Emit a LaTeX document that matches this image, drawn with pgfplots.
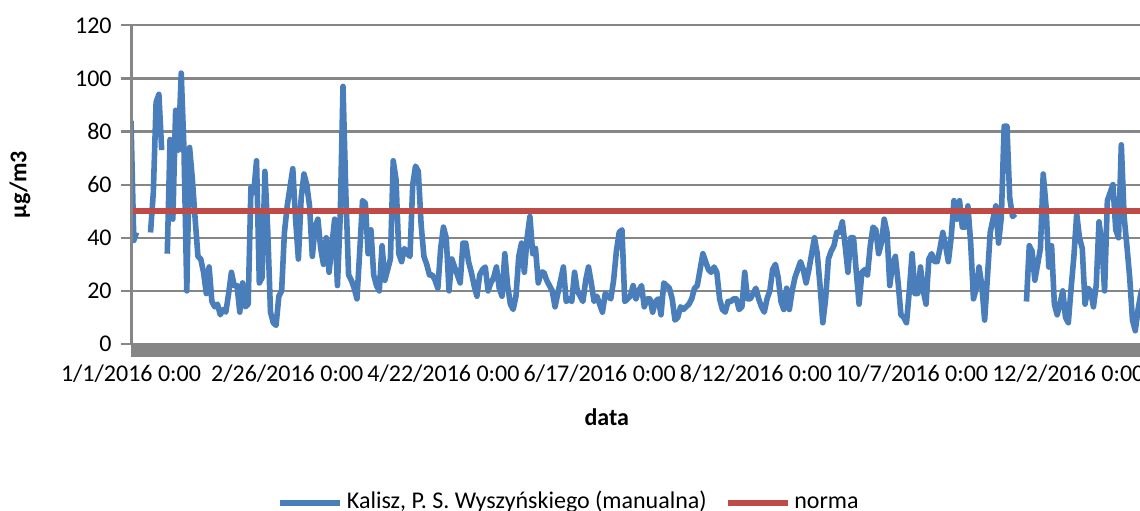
\documentclass[border=0pt]{standalone}
\usepackage{pgfplots}
\pgfplotsset{compat=1.18}
\usepackage{fontspec}
\setmainfont{Carlito}
\definecolor{serblue}{HTML}{4A7EBB}
\definecolor{serred}{HTML}{BE4B48}
\definecolor{gridgray}{HTML}{868686}
\begin{document}
\begin{tikzpicture}
\begin{axis}[
  at={(65.5pt,83pt)}, anchor=south west,
  scale only axis, width=510.5pt, height=159.35pt,
  xmin=0, xmax=366, ymin=0, ymax=120,
  axis line style={draw=none},
  xtick={0,56,112,168,224,280,336},
  xticklabels={1/1/2016 0:00, 2/26/2016 0:00, 4/22/2016 0:00, 6/17/2016 0:00, 8/12/2016 0:00, 10/7/2016 0:00, 12/2/2016 0:00},
  ytick={0,20,...,120},
  ytick pos=left,
  tick align=outside,
  major tick length=5pt,
  xtick style={draw=none},
  ytick style={draw=gridgray, line width=1.1pt},
  ymajorgrids,
  major grid style={draw=gridgray, line width=1.1pt},
  /pgf/number format/assume math mode=true,
  tick label style={font=\fontsize{12}{14}\selectfont},
  yticklabel style={anchor=east, inner sep=0pt, xshift=-4.5pt},
  xticklabel style={anchor=north, inner sep=0pt, yshift=-5pt},
  xlabel={data},
  ylabel={µg/m3},
  every axis x label/.style={at={(rel axis cs:0.466,-0.229)}, anchor=center, font=\fontsize{12}{14}\selectfont\bfseries},
  every axis y label/.style={at={(rel axis cs:-0.1087,0.5)}, anchor=center, rotate=90, font=\fontsize{12}{14}\selectfont\bfseries},
  unbounded coords=jump,
  legend columns=2,
  legend style={at={(rel axis cs:0.43,-0.499)}, anchor=center, draw=none, fill=none,
    font=\fontsize{12}{14}\selectfont, inner sep=0pt,
    nodes={text height=8.5pt, text depth=3pt},
    /tikz/every even column/.append style={column sep=7pt}},
  legend image code/.code={\draw[#1, line width=2.8pt] (0pt,0pt) -- (30pt,0pt);},
]
\addplot[serblue, line width=2.8pt, line join=round, no markers] table {
x y
0 84
1 39
2 42
3 nan
4 nan
5 nan
6 nan
7 42
8 57
9 91
10 94
11 73
12 nan
13 34
14 77
15 47
16 88
17 73
18 102
19 73
20 20
21 74
22 62
23 47
24 33
25 32
26 27
27 19
28 29
29 16
30 14
31 15
32 11
33 13
34 12
35 19
36 27
37 22
38 22
39 12
40 23
41 14
42 15
43 59
44 57
45 69
46 23
47 25
48 65
49 43
50 12
51 8
52 7
53 18
54 20
55 42
56 52
57 59
58 66
59 47
60 32
61 55
62 64
63 60
64 52
65 33
66 44
67 47
68 36
69 30
70 40
71 27
72 37
73 47
74 22
75 48
76 97
77 57
78 26
79 24
80 21
81 17
82 35
83 54
84 53
85 34
86 43
87 26
88 22
89 20
90 37
91 24
92 28
93 32
94 69
95 62
96 34
97 31
98 36
99 34
100 33
101 60
102 67
103 65
104 45
105 33
106 30
107 26
108 26
109 24
110 21
111 36
112 44
113 40
114 20
115 32
116 29
117 26
118 23
119 38
120 38
121 31
122 27
123 22
124 18
125 26
126 28
127 29
128 20
129 23
130 25
131 29
132 21
133 18
134 34
135 22
136 15
137 13
138 18
139 33
140 38
141 27
142 40
143 48
144 34
145 36
146 23
147 27
148 27
149 24
150 22
151 20
152 14
153 19
154 24
155 29
156 16
157 17
158 16
159 27
160 20
161 18
162 16
163 24
164 29
165 23
166 16
167 18
168 15
169 12
170 19
171 18
172 17
173 24
174 35
175 42
176 43
177 16
178 17
179 18
180 22
181 17
182 20
183 22
184 14
185 17
186 17
187 12
188 16
189 17
190 11
191 23
192 22
193 21
194 17
195 9
196 10
197 14
198 13
199 14
200 15
201 17
202 21
203 22
204 28
205 34
206 31
207 28
208 27
209 29
210 27
211 17
212 13
213 12
214 16
215 16
216 17
217 17
218 13
219 14
220 27
221 17
222 17
223 19
224 21
225 17
226 14
227 12
228 17
229 20
230 28
231 30
232 25
233 16
234 13
235 21
236 13
237 20
238 25
239 28
240 31
241 28
242 23
243 28
244 34
245 40
246 34
247 22
248 8
249 17
250 32
251 35
252 37
253 42
254 42
255 46
256 37
257 27
258 40
259 40
260 27
261 15
262 27
263 28
264 26
265 37
266 44
267 43
268 34
269 38
270 47
271 42
272 22
273 30
274 33
275 23
276 11
277 10
278 8
279 20
280 34
281 19
282 19
283 29
284 20
285 15
286 32
287 34
288 31
289 31
290 36
291 42
292 37
293 31
294 40
295 54
296 47
297 54
298 44
299 44
300 52
301 38
302 17
303 21
304 29
305 22
306 9
307 25
308 42
309 47
310 52
311 38
312 48
313 82
314 82
315 55
316 48
317 49
318 nan
319 nan
320 nan
321 16
322 37
323 35
324 24
325 30
326 36
327 64
328 52
329 29
330 37
331 15
332 11
333 15
334 20
335 10
336 8
337 21
338 33
339 49
340 40
341 36
342 15
343 21
344 20
345 14
346 22
347 46
348 38
349 20
350 54
351 57
352 60
353 43
354 40
355 75
356 48
357 37
358 25
359 9
360 5
361 13
362 19
363 22
};
\addlegendentry{Kalisz, P. S. Wyszyńskiego (manualna)}
\addplot[serred, line width=2.8pt, no markers] table {
x y
0 50
366 50
};
\addlegendentry{norma}
\end{axis}
\fill[gridgray] (65.5pt,83pt) rectangle (576pt,76.5pt);
\draw[gridgray, line width=1.5pt] (65.5pt,83pt) -- (65.5pt,242.35pt);
\pgfresetboundingbox
\useasboundingbox (0,0) rectangle (570pt,255pt);
\end{tikzpicture}
\end{document}
